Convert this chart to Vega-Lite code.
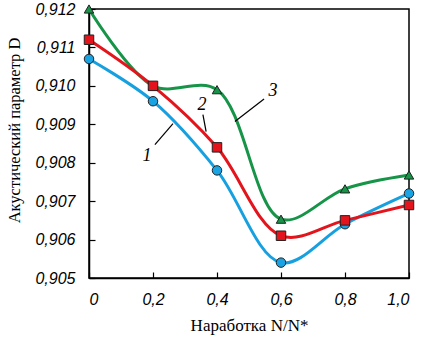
{
  "$schema": "https://vega.github.io/schema/vega-lite/v6.json",
  "width": 320,
  "height": 269,
  "autosize": "none",
  "padding": {"left": 89, "top": 9, "right": 12, "bottom": 61},
  "background": "white",
  "config": {
    "locale": {"number": {"decimal": ",", "thousands": " ", "grouping": [3], "currency": ["", ""]}},
    "view": {"stroke": "black", "strokeWidth": 1.5},
    "axis": {"grid": false, "domainColor": "black", "domainWidth": 1.5, "tickColor": "black", "tickWidth": 1.2, "labelColor": "black", "titleColor": "black", "labelOverlap": false}
  },
  "datasets": {
    "pts": [
      {"s": "1", "x": 0, "y": 0.9107},
      {"s": "1", "x": 0.2, "y": 0.9096},
      {"s": "1", "x": 0.4, "y": 0.9078},
      {"s": "1", "x": 0.6, "y": 0.9054},
      {"s": "1", "x": 0.8, "y": 0.9064},
      {"s": "1", "x": 1.0, "y": 0.9072},
      {"s": "3", "x": 0, "y": 0.912},
      {"s": "3", "x": 0.2, "y": 0.910},
      {"s": "3", "x": 0.4, "y": 0.9099},
      {"s": "3", "x": 0.6, "y": 0.90653},
      {"s": "3", "x": 0.8, "y": 0.90732},
      {"s": "3", "x": 1.0, "y": 0.90768},
      {"s": "2", "x": 0, "y": 0.9112},
      {"s": "2", "x": 0.2, "y": 0.910},
      {"s": "2", "x": 0.4, "y": 0.9084},
      {"s": "2", "x": 0.6, "y": 0.9061},
      {"s": "2", "x": 0.8, "y": 0.9065},
      {"s": "2", "x": 1.0, "y": 0.9069}
    ],
    "labels": [
      {"t": "1", "x": 0.181, "y": 0.90817},
      {"t": "2", "x": 0.353, "y": 0.9095},
      {"t": "3", "x": 0.575, "y": 0.90986}
    ],
    "leaders": [
      {"x": 0.206, "y": 0.90847, "x2": 0.2625, "y2": 0.90902},
      {"x": 0.356, "y": 0.90925, "x2": 0.366, "y2": 0.90881},
      {"x": 0.547, "y": 0.90966, "x2": 0.456, "y2": 0.90907}
    ]
  },
  "layer": [
    {
      "data": {"name": "pts"},
      "mark": {"type": "line", "interpolate": "catmull-rom", "strokeWidth": 3},
      "encoding": {
        "x": {"field": "x", "type": "quantitative", "scale": {"domain": [0, 1], "nice": false, "zero": false},
          "axis": {"tickCount": 5, "labelOverlap": false, "labelBound": false, "tickSize": -6, "labelPadding": 19, "labelFont": "Liberation Sans", "labelFontStyle": "italic", "labelFontSize": 16, "format": ".1f", "labelExpr": "datum.value == 0 ? '0' : datum.label", "title": "Наработка N/N*", "titleFont": "Liberation Serif", "titleFontSize": 17, "titleFontWeight": "normal", "titleX": 160, "titleY": 52, "titleBaseline": "alphabetic"}},
        "y": {"field": "y", "type": "quantitative", "scale": {"domain": [0.905, 0.912], "nice": false, "zero": false},
          "axis": {"tickCount": 7, "labelOverlap": false, "labelBound": false, "labelFlush": false, "tickSize": -6, "labelPadding": 20, "labelFont": "Liberation Sans", "labelFontStyle": "italic", "labelFontSize": 16, "format": ".3f", "title": "Акустический параметр D", "titleFont": "Liberation Serif", "titleFontSize": 16.5, "titleFontWeight": "normal", "titleX": -75, "titleY": 121, "titleBaseline": "middle", "titleAlign": "center"}},
        "color": {"field": "s", "type": "nominal", "scale": {"domain": ["1", "2", "3"], "range": ["#17a0e0", "#e3141c", "#169447"]}, "legend": null},
        "order": {"field": "x"}
      }
    },
    {
      "data": {"name": "pts"},
      "mark": {"type": "point", "filled": true, "stroke": "#222222", "strokeWidth": 1, "opacity": 1},
      "encoding": {
        "x": {"field": "x", "type": "quantitative"},
        "y": {"field": "y", "type": "quantitative"},
        "fill": {"field": "s", "type": "nominal", "scale": {"domain": ["1", "2", "3"], "range": ["#1aa3e2", "#e3141c", "#169447"]}, "legend": null},
        "shape": {"field": "s", "type": "nominal", "scale": {"domain": ["1", "2", "3"], "range": ["circle", "square", "triangle-up"]}, "legend": null},
        "size": {"value": 90}
      }
    },
    {
      "data": {"name": "leaders"},
      "mark": {"type": "rule", "color": "black", "strokeWidth": 1.2},
      "encoding": {
        "x": {"field": "x", "type": "quantitative"},
        "y": {"field": "y", "type": "quantitative"},
        "x2": {"field": "x2"},
        "y2": {"field": "y2"}
      }
    },
    {
      "data": {"name": "labels"},
      "mark": {"type": "text", "font": "Liberation Serif", "fontStyle": "italic", "fontSize": 18, "color": "black"},
      "encoding": {
        "x": {"field": "x", "type": "quantitative"},
        "y": {"field": "y", "type": "quantitative"},
        "text": {"field": "t"}
      }
    }
  ]
}
